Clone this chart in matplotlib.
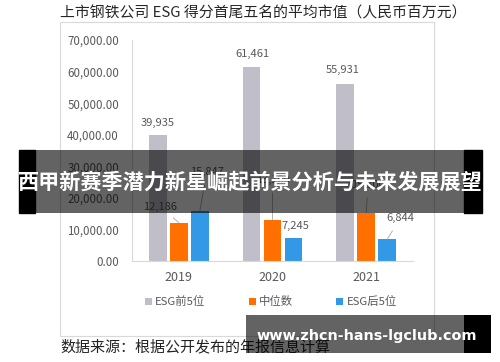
import matplotlib
matplotlib.use("Agg")
import matplotlib.pyplot as plt
from matplotlib.patches import Rectangle, Patch
import numpy as np

plt.rcParams['font.family'] = ['Noto Sans CJK SC', 'DejaVu Sans']

years = ['2019', '2020', '2021']
series_names = ['ESG前5位', '中位数', 'ESG后5位']
top5 = [39935, 61461, 55931]
median = [12186, 13100, 15300]
bottom5 = [15847, 7245, 6844]
yticks = [0, 10000, 20000, 30000, 40000, 50000, 60000, 70000]

colors = ['#C0BFC9', '#FF7000', '#3399E6']
W, H = 500, 362
fig = plt.figure(figsize=(W / 100, H / 100), dpi=100)

def fx(px):
    return px / W

def fy(py):
    return 1 - py / H

# chart frame
fig.add_artist(Rectangle((fx(60), fy(336)), fx(434) - fx(60), fy(22) - fy(336),
                         transform=fig.transFigure, fill=False,
                         edgecolor='#D9D9D9', lw=0.8))

ax = fig.add_axes([fx(132), fy(261), fx(413) - fx(132), fy(40) - fy(261)])
x = np.arange(len(years))
step = 0.224
bw = 0.19
data = [top5, median, bottom5]
bars = []
for i, (vals, c) in enumerate(zip(data, colors)):
    b = ax.bar(x + (i - 1) * step, vals, width=bw, color=c, zorder=2)
    bars.append(b)

ax.set_xlim(-0.5, 2.5)
ax.set_ylim(0, 70000)
ax.set_yticks(yticks)
ax.set_yticklabels([f'{v:,.2f}' for v in yticks])
ax.set_xticks(x)
ax.set_xticklabels(years)
ax.tick_params(axis='y', length=0, pad=9.4, labelsize=8.3, labelcolor='#595959')
ax.tick_params(axis='x', length=0, pad=7, labelsize=9, labelcolor='#595959')
for s in ['top', 'right']:
    ax.spines[s].set_visible(False)
ax.spines['left'].set_color('#D9D9D9')
ax.spines['bottom'].set_color('#D9D9D9')
ax.spines['left'].set_linewidth(0.8)
ax.spines['bottom'].set_linewidth(0.8)
ax.set_facecolor('none')

# label offsets in pixels (dx, dy) and whether to draw leader line
offsets = [
    [(0, 12, False), (1, 13, False), (-3, 14, False)],
    [(-19, 16, True), (0, 40, True), (2, 28, True)],
    [(7, 39, True), (2, 12, False), (13, 21, True)],
]
k = 0.72
for i, (vals, b) in enumerate(zip(data, bars)):
    for j, (v, rect) in enumerate(zip(vals, b)):
        dx, dy, lead = offsets[i][j]
        cx = rect.get_x() + rect.get_width() / 2
        arrow = dict(arrowstyle='-', color='#A6A6A6', lw=0.6, shrinkA=4, shrinkB=0) if lead else None
        ax.annotate(f'{v:,}', xy=(cx, v), xytext=(dx * k, dy * k),
                    textcoords='offset points', ha='center', va='center',
                    fontsize=8, color='#595959', arrowprops=arrow, zorder=3)

handles = [Patch(facecolor=c, edgecolor='none') for c in colors]
fig.legend(handles, series_names, loc='center', bbox_to_anchor=(fx(271), fy(302)),
           ncol=3, frameon=False, fontsize=8.2, labelcolor='#595959',
           handlelength=0.6, handleheight=0.6, handletextpad=0.3,
           columnspacing=3.8, borderpad=0, borderaxespad=0)

fig.text(fx(60), fy(13), '上市钢铁公司 ESG 得分首尾五名的平均市值（人民币百万元）',
         ha='left', va='center', fontsize=10.7, color='#262626')
fig.text(fx(60), fy(347), '数据来源：根据公开发布的年报信息计算',
         ha='left', va='center', fontsize=10.8, color='#222222')

# banner overlay
fig.add_artist(Rectangle((fx(19), fy(213)), fx(35) - fx(19), fy(150) - fy(213),
                         transform=fig.transFigure, color='black', zorder=10))
fig.add_artist(Rectangle((fx(464), fy(213)), fx(482) - fx(464), fy(150) - fy(213),
                         transform=fig.transFigure, color='black', zorder=10))
fig.add_artist(Rectangle((fx(35), fy(213)), fx(464) - fx(35), fy(150) - fy(213),
                         transform=fig.transFigure, color='black', alpha=0.61,
                         lw=0, zorder=10))
fig.text(fx(250), fy(182), '西甲新赛季潜力新星崛起前景分析与未来发展展望',
         ha='center', va='center', fontsize=15.2, fontweight='bold',
         color='white', zorder=11)

# watermark
fig.add_artist(Rectangle((fx(246), fy(353)), fx(464) - fx(246), fy(315) - fy(353),
                         transform=fig.transFigure, color='black', alpha=0.61,
                         lw=0, zorder=10))
fig.add_artist(Rectangle((fx(464), fy(353)), fx(491) - fx(464), fy(315) - fy(353),
                         transform=fig.transFigure, color='black', lw=0, zorder=10))
fig.text(fx(367), fy(336), 'www.zhcn-hans-lgclub.com', ha='center', va='center',
         fontsize=10.4, fontweight='bold', color='white',
         family=['DejaVu Sans'], zorder=11)

fig.savefig('out.png', dpi=100)
